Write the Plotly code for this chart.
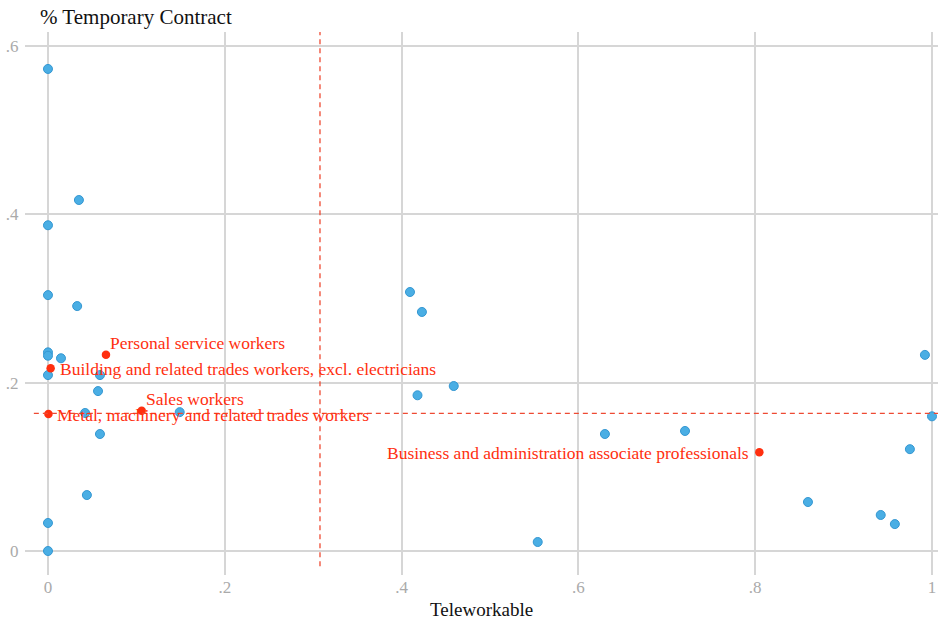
import plotly.graph_objects as go

# Other occupations (blue)
tele_other = [0.0, 0.035, 0.0, 0.0, 0.033, 0.0, 0.0, 0.0147, 0.0, 0.0588, 0.0566, 0.042,
              0.149, 0.0588, 0.044, 0.0, 0.0, 0.4095, 0.423, 0.418, 0.459, 0.554, 0.630,
              0.7206, 0.8597, 0.942, 0.958, 0.975, 0.992, 1.0]
temp_other = [0.5727, 0.417, 0.387, 0.304, 0.291, 0.236, 0.232, 0.229, 0.209, 0.209, 0.190, 0.164,
              0.165, 0.139, 0.0665, 0.0333, 0.0, 0.3077, 0.284, 0.185, 0.196, 0.0107, 0.139,
              0.1426, 0.0582, 0.0428, 0.032, 0.121, 0.233, 0.160]

# Highlighted occupations (red)
hl_names = ["Personal service workers",
            "Building and related trades workers, excl. electricians",
            "Sales workers",
            "Metal, machinery and related trades workers",
            "Business and administration associate professionals"]
tele_hl = [0.0656, 0.003, 0.106, 0.0005, 0.8047]
temp_hl = [0.2333, 0.217, 0.1667, 0.1628, 0.1173]
label_side = ["above", "right", "above", "right", "left"]

# Reference lines (means)
mean_tele = 0.3077
mean_temp = 0.1635

x_ticks = [0, 0.2, 0.4, 0.6, 0.8, 1.0]
x_labels = ["0", ".2", ".4", ".6", ".8", "1"]
y_ticks = [0, 0.2, 0.4, 0.6]
y_labels = ["0", ".2", ".4", ".6"]

FONT = "Liberation Serif"
RED = "#ff2f0f"
BLUE = "#4aaee4"
LBL = 17.5

fig = go.Figure()
fig.add_trace(go.Scatter(
    x=tele_other, y=temp_other, mode="markers",
    marker=dict(size=9, color=BLUE, line=dict(color="#3497d2", width=1)),
    showlegend=False, hoverinfo="x+y"))
fig.add_trace(go.Scatter(
    x=tele_hl, y=temp_hl, mode="markers",
    marker=dict(size=8.5, color=RED, line=dict(width=0)),
    text=hl_names, showlegend=False, hoverinfo="text+x+y"))

for name, x, y, side in zip(hl_names, tele_hl, temp_hl, label_side):
    if side == "above":
        fig.add_annotation(x=x, y=y, text=name, showarrow=False, xanchor="left", yanchor="middle",
                           xshift=2, yshift=12, font=dict(family=FONT, size=LBL, color=RED))
    elif side == "right":
        fig.add_annotation(x=x, y=y, text=name, showarrow=False, xanchor="left", yanchor="middle",
                           xshift=7, yshift=-1, font=dict(family=FONT, size=LBL, color=RED))
    else:
        fig.add_annotation(x=x, y=y, text=name, showarrow=False, xanchor="right", yanchor="middle",
                           xshift=-8, yshift=-1, font=dict(family=FONT, size=LBL, color=RED))

fig.add_shape(type="line", x0=mean_tele, x1=mean_tele, y0=-0.018, y1=0.6166,
              line=dict(color="#ee4a33", width=1.3, dash="5px,4px"), layer="above")
fig.add_shape(type="line", x0=-0.016, x1=1.0068, y0=mean_temp, y1=mean_temp,
              line=dict(color="#ee4a33", width=1.3, dash="5px,4px"), layer="above")

fig.add_annotation(text="% Temporary Contract", xref="paper", yref="paper", x=0.0,
                   y=1.0, xanchor="left", yanchor="middle", xshift=13, yshift=15, showarrow=False,
                   font=dict(family=FONT, size=21, color="#111111"))

fig.add_annotation(text="Teleworkable", xref="paper", yref="paper", x=0.5,
                   y=0.0, xanchor="center", yanchor="middle", xshift=0, yshift=-34, showarrow=False,
                   font=dict(family=FONT, size=19, color="#111111"))

fig.update_layout(
    width=938, height=621,
    margin=dict(l=25, r=0, t=32, b=46, autoexpand=False),
    plot_bgcolor="white", paper_bgcolor="white",
    font=dict(family=FONT, size=15, color="#222222"),
    xaxis=dict(range=[-0.026, 1.0068], tickvals=x_ticks, ticktext=x_labels,
               showgrid=True, gridcolor="#d6d6d6", gridwidth=1.5, zeroline=False,
               showline=False, ticks="", automargin=False,
               tickfont=dict(family=FONT, size=17, color="#aaaaaa")),
    yaxis=dict(range=[-0.0285, 0.6166], tickvals=y_ticks, ticktext=y_labels,
               showgrid=True, gridcolor="#d6d6d6", gridwidth=1.5, zeroline=False,
               showline=False, ticks="outside", ticklen=2, tickcolor="rgba(0,0,0,0)",
               automargin=False,
               tickfont=dict(family=FONT, size=17, color="#aaaaaa")),
)

# Remove the default page-body margin so the figure fills the window exactly.
fig.write_html("out.html", config={"displayModeBar": False},
               post_script="document.body.style.margin='0px';")
